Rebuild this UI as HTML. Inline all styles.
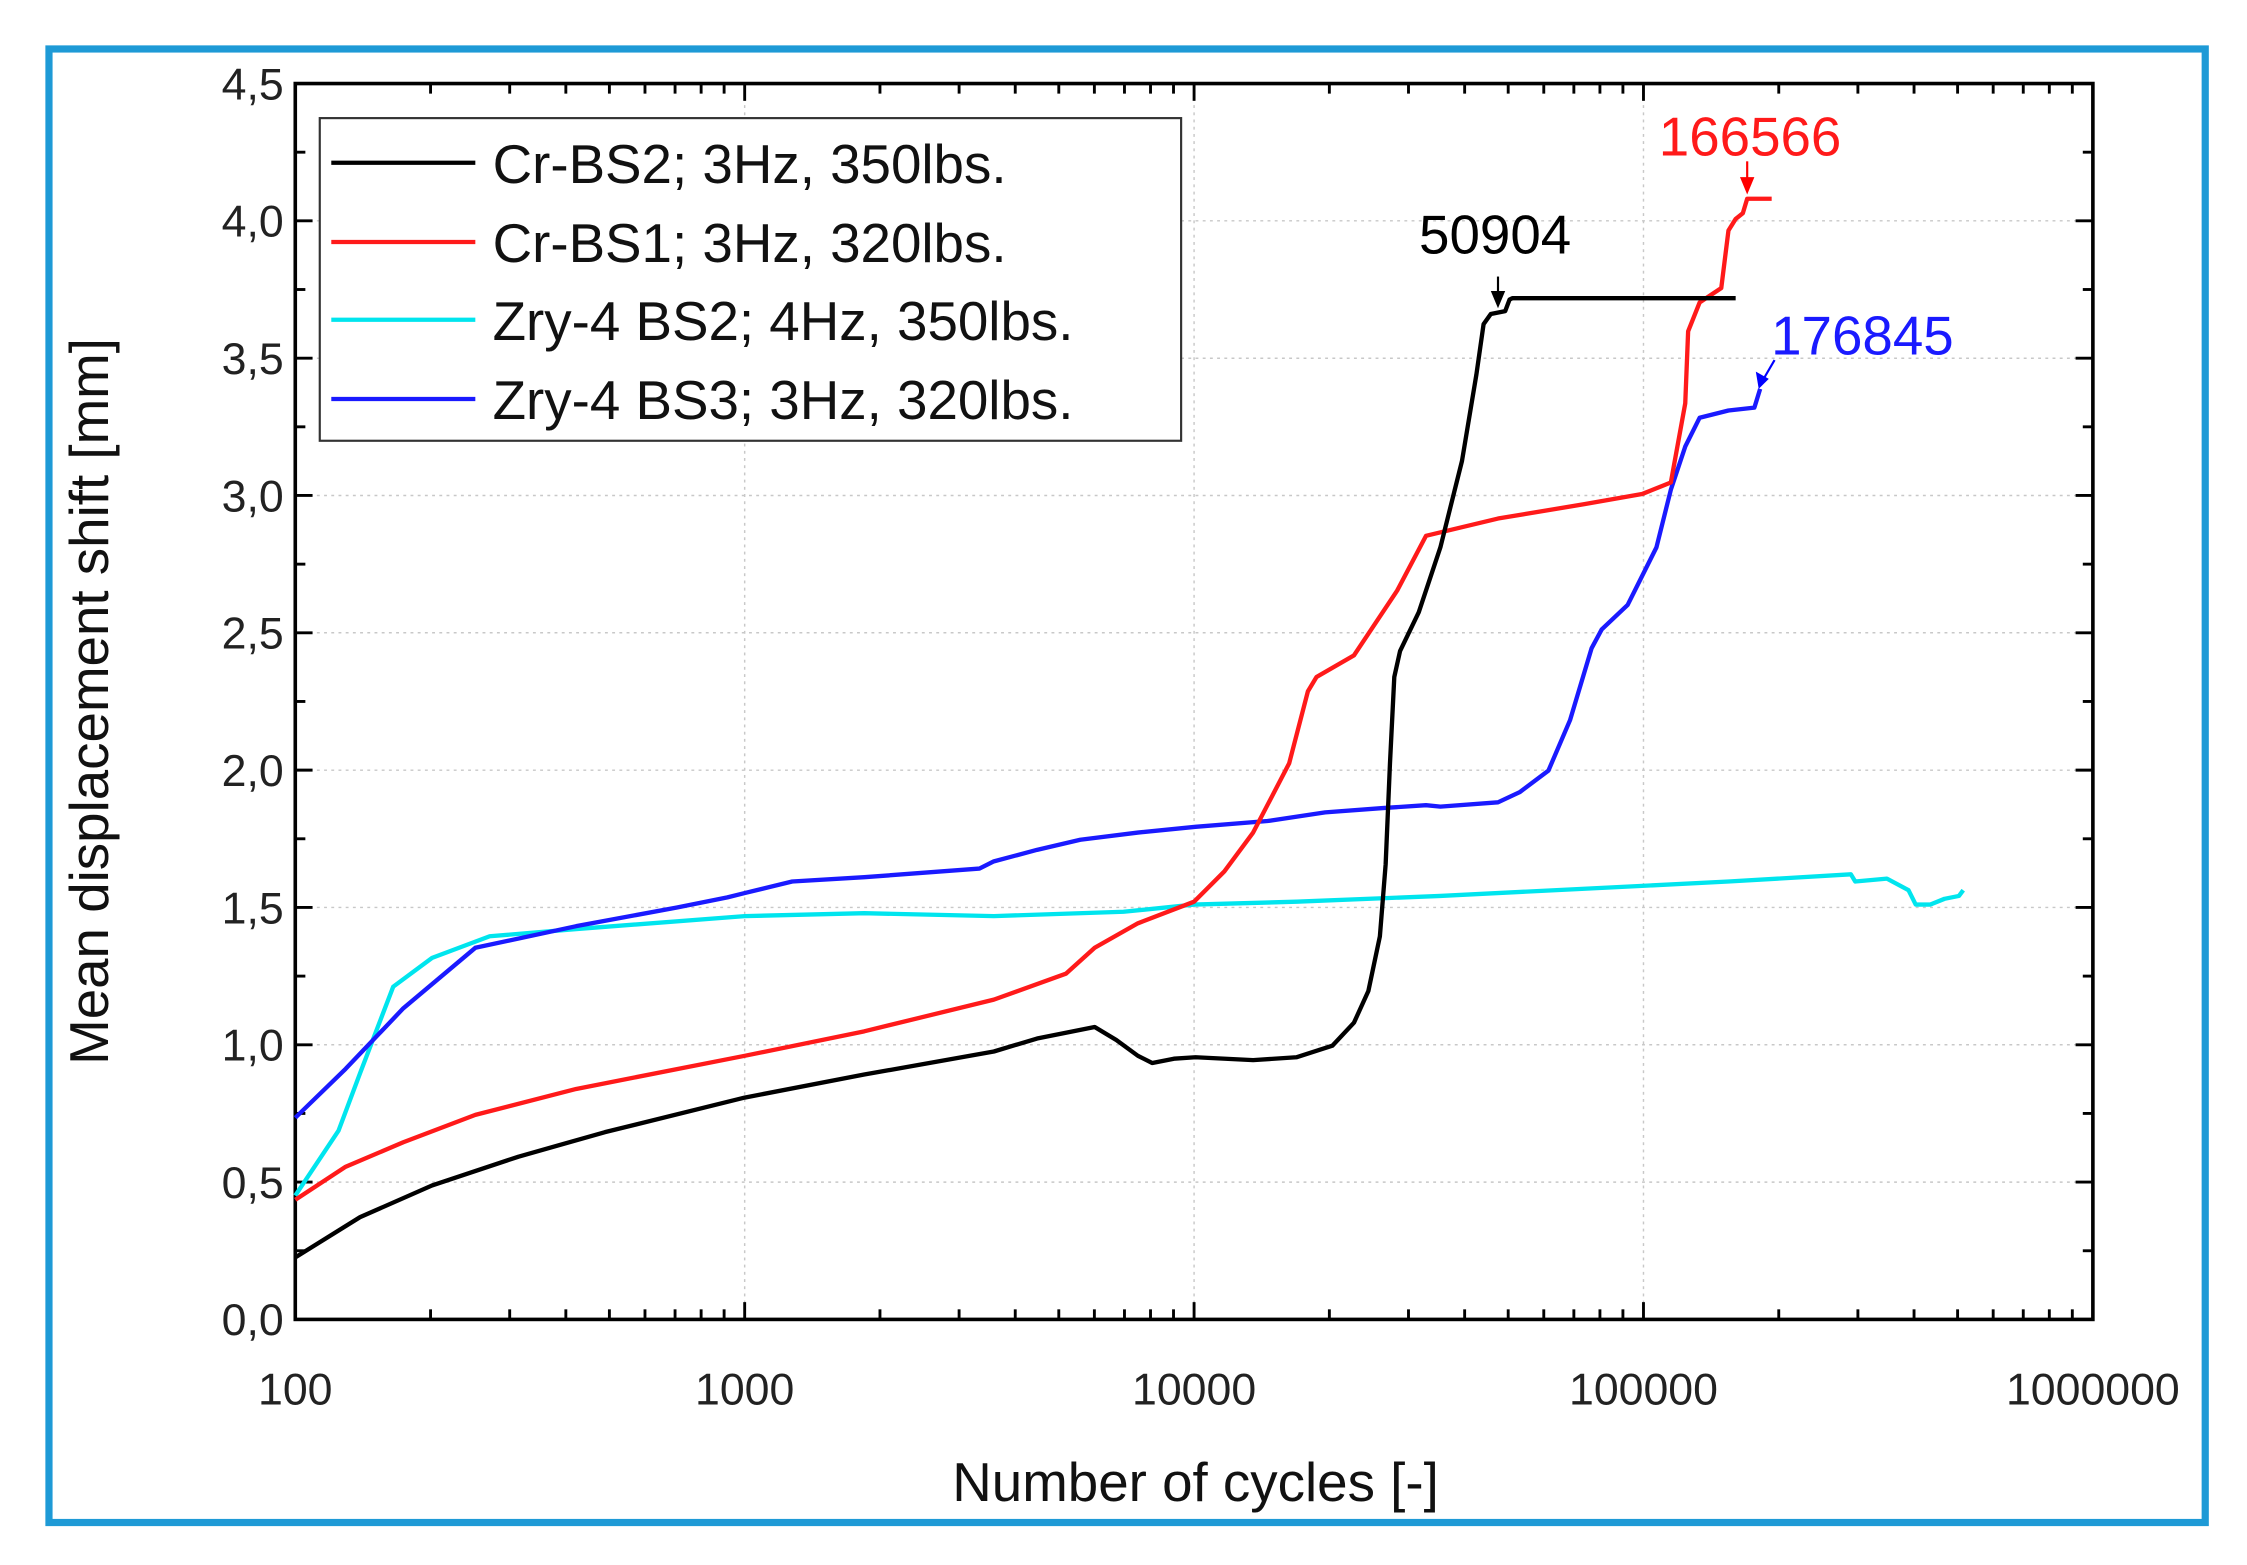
<!DOCTYPE html>
<html><head><style>html,body{margin:0;padding:0;background:#fff}svg{display:block}</style></head><body>
<svg width="2247" height="1565" viewBox="0 0 1560 1086.5" preserveAspectRatio="none" xmlns="http://www.w3.org/2000/svg" font-family="Liberation Sans, sans-serif">
<rect x="0" y="0" width="1560" height="1086.5" fill="#fff"/>
<rect x="34" y="34" width="1497" height="1023" fill="none" stroke="#1e9ad6" stroke-width="5"/>
<g id="grid" stroke="#c8c8c8" stroke-width="1" stroke-dasharray="2,3">
<line x1="517" y1="58" x2="517" y2="916"/><line x1="829" y1="58" x2="829" y2="916"/><line x1="1141" y1="58" x2="1141" y2="916"/>
<line x1="205" y1="820.7" x2="1453" y2="820.7"/><line x1="205" y1="725.3" x2="1453" y2="725.3"/><line x1="205" y1="630" x2="1453" y2="630"/><line x1="205" y1="534.7" x2="1453" y2="534.7"/><line x1="205" y1="439.3" x2="1453" y2="439.3"/><line x1="205" y1="344" x2="1453" y2="344"/><line x1="205" y1="248.7" x2="1453" y2="248.7"/><line x1="205" y1="153.3" x2="1453" y2="153.3"/>
</g>
<g stroke="#000" stroke-width="2" id="ticks"></g>
<rect x="205" y="58" width="1248" height="858" fill="none" stroke="#000" stroke-width="2.5"/>
<g font-size="31" fill="#222" text-anchor="end" id="ylab"></g>
<g font-size="31" fill="#222" text-anchor="middle">
<text x="205" y="975">100</text><text x="517" y="975">1000</text><text x="829" y="975">10000</text><text x="1141" y="975">100000</text><text x="1453" y="975">1000000</text>
</g>
<text x="830" y="1042" font-size="38" text-anchor="middle" fill="#111">Number of cycles [-]</text>
<text transform="translate(75,487) rotate(-90)" font-size="38" text-anchor="middle" fill="#111">Mean displacement shift [mm]</text>
<g fill="none" stroke-width="3" stroke-linejoin="round">
<polyline stroke="#00e5ee" points="205,830 235,785 250,745 273,685 300,665 340,650 400,645 517,636 600,634 690,636 780,633 829,628 900,626 1000,622 1100,617 1140,615 1200,612 1285,607 1288,612 1310,610 1325,618 1330,628 1340,628 1350,624 1360,622 1363,618"/>
<polyline stroke="#1a1aff" points="205,776 240,742 280,700 330,658 400,643 470,630 505,623 517,620 550,612 600,609 680,603 690,598 720,590 750,583 790,578 830,574 880,570 920,564 960,561 990,559 1000,560 1040,557 1055,550 1075,535 1090,500 1105,450 1112,437 1130,420 1150,380 1160,340 1170,310 1180,290 1200,285 1218,283 1222,270"/>
<polyline stroke="#ff1a1a" points="205,833 240,810 280,793 330,774 400,756 517,733 600,716 690,694 740,676 760,658 790,641 829,626 850,605 870,578 895,530 908,480 914,470 940,455 970,410 990,372 1040,360 1100,350 1140,343 1160,335 1170,280 1172,230 1180,210 1195,200 1200,160 1205,152 1210,148 1213,138 1230,138"/>
<polyline stroke="#000" points="205,873 250,845 300,823 360,803 420,786 517,762 600,746 690,730 720,721 760,713 775,722 790,733 800,738 815,735 830,734 870,736 900,734 925,726 940,710 950,688 958,650 962,600 965,530 968,470 972,452 985,425 1000,380 1015,320 1025,260 1030,225 1035,218 1045,216 1048,208 1050,207 1205,207"/>
</g>
<g stroke-width="1.5">
<line x1="1040" y1="192" x2="1040" y2="208" stroke="#000"/><polygon points="1035,202 1045,202 1040,214" fill="#000"/>
<line x1="1213" y1="112" x2="1213" y2="126" stroke="red"/><polygon points="1208,123 1218,123 1213,135" fill="red"/>
<line x1="1232" y1="250" x2="1225" y2="262" stroke="blue"/><polygon points="1219,258 1228,263 1221,270" fill="blue"/>
</g>
<text x="1038" y="176" font-size="38" text-anchor="middle" fill="#000">50904</text>
<text x="1215" y="108" font-size="38" text-anchor="middle" fill="#ff1a1a">166566</text>
<text x="1293" y="246" font-size="38" text-anchor="middle" fill="#1a1aff">176845</text>
<rect x="222" y="82" width="598" height="224" fill="#fff" stroke="#333" stroke-width="1.5"/>
<g stroke-width="3"><line x1="230" y1="113" x2="330" y2="113" stroke="#000"/><line x1="230" y1="168" x2="330" y2="168" stroke="#ff1a1a"/><line x1="230" y1="222" x2="330" y2="222" stroke="#00e5ee"/><line x1="230" y1="277" x2="330" y2="277" stroke="#1a1aff"/></g>
<g font-size="38" fill="#111"><text x="342" y="127">Cr-BS2; 3Hz, 350lbs.</text><text x="342" y="182">Cr-BS1; 3Hz, 320lbs.</text><text x="342" y="236">Zry-4 BS2; 4Hz, 350lbs.</text><text x="342" y="291">Zry-4 BS3; 3Hz, 320lbs.</text></g>
<script>
var ns="http://www.w3.org/2000/svg",t=document.getElementById("ticks"),yl=document.getElementById("ylab");
function L(a,b,c,d){var l=document.createElementNS(ns,"line");l.setAttribute("x1",a);l.setAttribute("y1",b);l.setAttribute("x2",c);l.setAttribute("y2",d);t.appendChild(l);}
for(var dcd=2;dcd<6;dcd++)for(var m=1;m<10;m++){var x=205+(dcd-2+Math.log10(m))*312,len=m==1?12:7;L(x,916,x,916-len);L(x,58,x,58+len);}
for(var i=0;i<=18;i++){var y=916-i*0.25*190.67,len=i%2==0?12:7;L(205,y,205+len,y);L(1453,y,1453-len,y);
if(i%2==0){var tx=document.createElementNS(ns,"text");tx.setAttribute("x",197);tx.setAttribute("y",y+11);tx.textContent=(i/4).toFixed(1).replace(".",",");yl.appendChild(tx);}}
</script>
</svg>
</body></html>
